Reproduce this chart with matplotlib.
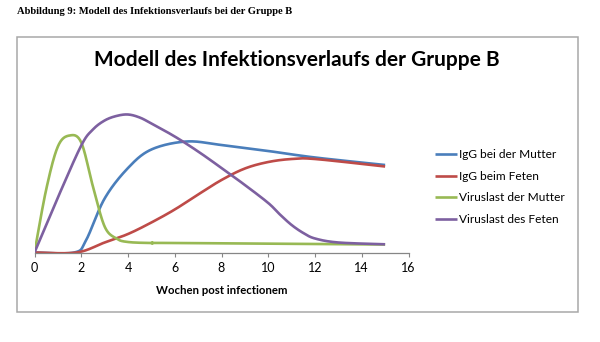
import numpy as np
import matplotlib
matplotlib.use("Agg")
import matplotlib.pyplot as plt
from matplotlib.patches import Rectangle

# Wochen post infectionem / relative Werte
igg_mutter_x = [0, 1.7, 2.2, 3, 4, 5, 6.5, 8, 10, 12, 15]
igg_mutter_y = [0, 0, 12, 54, 84.5, 103, 111, 107.5, 101.5, 95, 87.5]

igg_feten_x = [0, 1.8, 3, 4, 5, 6, 7, 8, 9, 10, 11, 12, 15]
igg_feten_y = [0, 0, 10, 18.5, 30, 43, 58, 72.5, 84, 90.5, 93.5, 93.5, 86]

virus_mutter_x = [0, 0.5, 1, 1.5, 2, 2.5, 3, 3.5, 4, 5, 6, 15]
virus_mutter_y = [0, 63, 106, 117, 110, 66, 26, 14, 10.5, 9.5, 9.5, 8]

virus_feten_x = [0, 1, 2, 2.5, 3, 3.5, 4, 4.5, 5, 6, 7, 8, 9, 10, 10.5,
                 11, 11.5, 12, 13, 15]
virus_feten_y = [0, 55, 107, 123, 132, 136.5, 138, 135, 129, 116, 101,
                 84.5, 67.5, 49.5, 38, 27.5, 19.5, 14, 10, 8.2]

labels = ["IgG bei der Mutter", "IgG beim Feten",
          "Viruslast der Mutter", "Viruslast des Feten"]
colors = ["#4A7EBB", "#BE4B48", "#98B954", "#7D60A0"]
xticks = [0, 2, 4, 6, 8, 10, 12, 14, 16]


def smooth(xs, ys, n=30):
    # Catmull-Rom, wie die geglaetteten Linien in Excel
    p = np.column_stack([xs, ys]).astype(float)
    p = np.vstack([p[0], p, p[-1]])
    out = []
    for i in range(1, len(p) - 2):
        p0, p1, p2, p3 = p[i - 1], p[i], p[i + 1], p[i + 2]
        c1 = p1 + (p2 - p0) / 6
        c2 = p2 - (p3 - p1) / 6
        t = np.linspace(0, 1, n)[:, None]
        seg = ((1 - t) ** 3) * p1 + 3 * ((1 - t) ** 2) * t * c1 \
            + 3 * (1 - t) * t ** 2 * c2 + t ** 3 * p2
        out.append(seg if i == 1 else seg[1:])
    out = np.vstack(out)
    return out[:, 0], out[:, 1]


W, H = 600, 342
fig = plt.figure(figsize=(W / 100, H / 100), dpi=100)
fig.patch.set_facecolor("white")

fig.text(17 / W, 1 - 11 / H,
         "Abbildung 9: Modell des Infektionsverlaufs bei der Gruppe B",
         family="Liberation Serif", weight="bold", fontsize=7.6,
         ha="left", va="center")

fig.patches.append(Rectangle((17 / W, 1 - 312 / H), (578 - 17) / W,
                             (312 - 36.5) / H, transform=fig.transFigure,
                             fill=False, edgecolor="#a8a8a8", lw=1.1))

ax = fig.add_axes([34.5 / W, 1 - 252.5 / H, 374 / W, 160 / H])
series = [(igg_mutter_x, igg_mutter_y), (igg_feten_x, igg_feten_y),
          (virus_mutter_x, virus_mutter_y), (virus_feten_x, virus_feten_y)]
for (xs, ys), lab, col in zip(series, labels, colors):
    sx, sy = smooth(xs, ys)
    ax.plot(sx, sy, color=col, lw=1.9, label=lab, solid_capstyle="butt")

ax.set_xlim(0, 16)
ax.set_ylim(0, 160)
ax.set_xticks(xticks)
ax.set_yticks([])
for s in ["top", "right", "left"]:
    ax.spines[s].set_visible(False)
ax.spines["bottom"].set_color("#868686")
ax.spines["bottom"].set_linewidth(0.9)
ax.tick_params(axis="x", direction="out", length=3, width=0.8,
               color="#868686", labelsize=9, pad=4)
for t in ax.get_xticklabels():
    t.set_family("Lato")
ax.patch.set_alpha(0)

fig.text(222 / W, 1 - 290 / H, "Wochen post infectionem", family="Lato",
         weight="bold", fontsize=8.2, ha="center", va="center")
fig.text(297 / W, 1 - 60 / H, "Modell des Infektionsverlaufs der Gruppe B",
         family="Lato", weight="bold", fontsize=15, ha="center", va="center")

leg = ax.legend(loc="upper left", bbox_to_anchor=(435 / W, 1 - 149 / H),
                bbox_transform=fig.transFigure, frameon=False,
                prop={"family": "Lato", "size": 8.6}, handlelength=1.85,
                handletextpad=0.15, labelspacing=0.9, borderpad=0,
                borderaxespad=0)

fig.savefig("out.png", dpi=100, facecolor="white")
